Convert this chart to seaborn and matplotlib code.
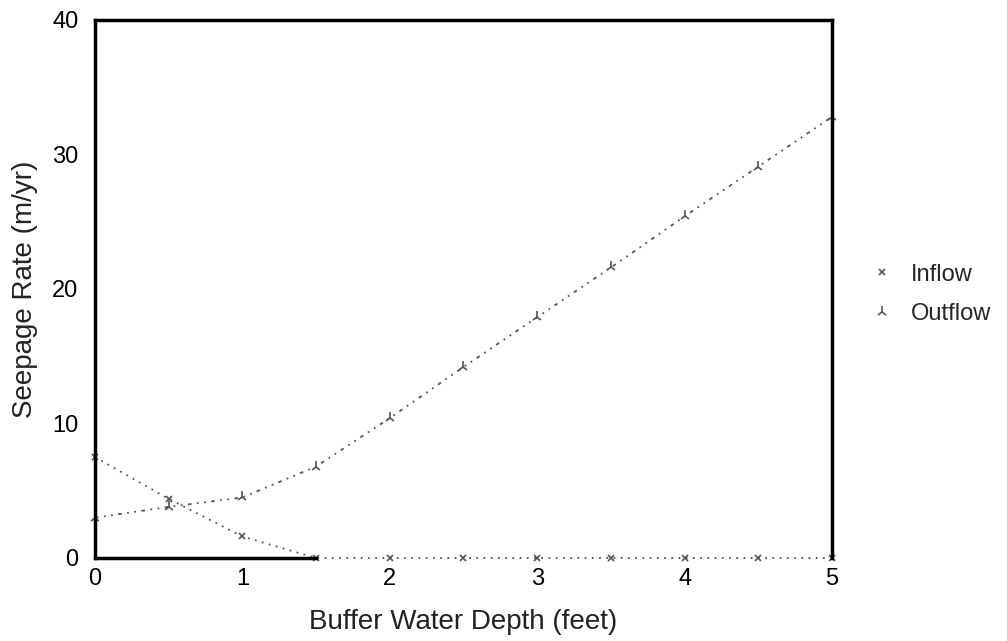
import matplotlib
matplotlib.use("Agg")
import matplotlib.pyplot as plt
import seaborn as sns
import pandas as pd

depth = [0, 0.5, 1, 1.5, 2, 2.5, 3, 3.5, 4, 4.5, 5]
inflow = [7.5, 4.4, 1.6, 0, 0, 0, 0, 0, 0, 0, 0]
outflow = [3.0, 3.8, 4.5, 6.8, 10.4, 14.2, 17.9, 21.6, 25.4, 29.1, 32.8]
xticks = [0, 1, 2, 3, 4, 5]
yticks = [0, 10, 20, 30, 40]

sns.set_theme(style="white")
plt.rcParams['font.family'] = ['Liberation Sans', 'DejaVu Sans']

df = pd.DataFrame({"depth": depth, "Inflow": inflow, "Outflow": outflow})

fig = plt.figure(figsize=(10.07, 6.41), dpi=100)
ax = fig.add_axes([0.0943, 0.1295, 0.7319, 0.8393])

sns.lineplot(data=df, x="depth", y="Inflow", ax=ax, color="#555555", lw=1.3,
             linestyle=(0, (1, 3)), marker="x", markersize=5, mew=1.2,
             mec="#555555", label="Inflow", clip_on=False)
sns.lineplot(data=df, x="depth", y="Outflow", ax=ax, color="#555555", lw=1.3,
             linestyle=(0, (2, 3, 1, 3, 1, 3)), marker="2", markersize=8, mew=1.2,
             mec="#555555", label="Outflow", clip_on=False)

ax.set_xlim(0, 5)
ax.set_ylim(0, 40)
ax.set_xticks(xticks)
ax.set_yticks(yticks)
ax.tick_params(axis="both", direction="in", length=3, width=1, labelsize=17,
               colors="black")
ax.tick_params(axis="x", pad=7)
ax.tick_params(axis="y", pad=12)
for s in ax.spines.values():
    s.set_linewidth(2.5)
    s.set_color("black")
ax.spines["bottom"].set_bounds(0, 1.5)
ax.set_xlabel("Buffer Water Depth (feet)", fontsize=20, color="#222222", labelpad=14)
ax.set_ylabel("Seepage Rate (m/yr)", fontsize=20, color="#222222", labelpad=10)

leg = ax.legend(loc="center left", bbox_to_anchor=(1.03, 0.49), frameon=False,
                fontsize=17, handlelength=0.6, handletextpad=0.9, labelspacing=0.75)
for h in leg.legend_handles:
    h.set_linestyle("None")

fig.savefig("out.png", dpi=100, facecolor="white")
